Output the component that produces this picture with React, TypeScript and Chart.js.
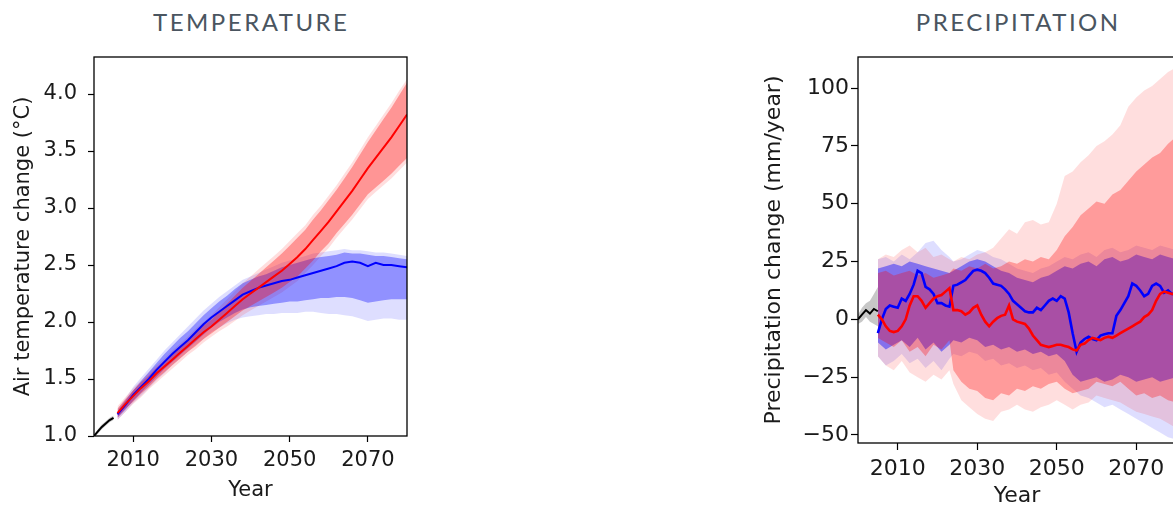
import React, { useEffect, useRef } from "react";
import { Chart, registerables } from "chart.js";

Chart.register(...registerables);

// ---------- shared ----------
const X_TICKS = [2010, 2030, 2050, 2070];
const HIST_YEARS = [2000, 2001, 2002, 2003, 2004, 2005];

// ---------- temperature ----------
const T_Y_TICKS = [1.0, 1.5, 2.0, 2.5, 3.0, 3.5, 4.0];
const T_HIST = [1.0, 1.04, 1.08, 1.11, 1.14, 1.16];
const T_HIST_HI = [1.01, 1.06, 1.1, 1.13, 1.16, 1.18];
const T_HIST_LO = [0.99, 1.02, 1.06, 1.09, 1.12, 1.14];

const T_YEARS = [
  2006, 2008, 2010, 2012, 2014, 2016, 2018, 2020, 2022, 2024,
  2026, 2028, 2030, 2032, 2034, 2036, 2038, 2040, 2042, 2044,
  2046, 2048, 2050, 2052, 2054, 2056, 2058, 2060, 2062, 2064,
  2066, 2068, 2070, 2072, 2074, 2076, 2078, 2080,
];
const T_RED = [
  1.2, 1.28, 1.35, 1.42, 1.48, 1.55, 1.61, 1.67, 1.73, 1.79,
  1.85, 1.91, 1.96, 2.02, 2.08, 2.14, 2.2, 2.25, 2.3, 2.35,
  2.4, 2.45, 2.51, 2.57, 2.64, 2.72, 2.8, 2.88, 2.97, 3.06,
  3.15, 3.25, 3.35, 3.44, 3.53, 3.62, 3.72, 3.82,
];
const T_RED_HI = [
  1.24, 1.32, 1.4, 1.47, 1.53, 1.6, 1.66, 1.72, 1.78, 1.84,
  1.91, 1.97, 2.02, 2.09, 2.16, 2.23, 2.3, 2.36, 2.42, 2.48,
  2.54, 2.6, 2.67, 2.74, 2.81, 2.9, 2.98, 3.07, 3.16, 3.26,
  3.36, 3.47, 3.58, 3.68, 3.78, 3.88, 3.99, 4.1,
];
const T_RED_LO = [
  1.16, 1.24, 1.3, 1.37, 1.43, 1.5, 1.56, 1.62, 1.68, 1.74,
  1.79, 1.85, 1.9, 1.95, 2.0, 2.05, 2.1, 2.14, 2.18, 2.22,
  2.26, 2.3, 2.35, 2.4, 2.47, 2.54, 2.62, 2.69, 2.78, 2.86,
  2.94, 3.03, 3.12, 3.18, 3.24, 3.3, 3.37, 3.44,
];
const T_RED_HI2 = [
  1.26, 1.34, 1.42, 1.49, 1.56, 1.62, 1.68, 1.75, 1.81, 1.87,
  1.94, 2.0, 2.06, 2.13, 2.2, 2.27, 2.34, 2.4, 2.46, 2.52,
  2.58, 2.64, 2.71, 2.78, 2.85, 2.94, 3.02, 3.11, 3.2, 3.3,
  3.4, 3.51, 3.62, 3.72, 3.82, 3.92, 4.03, 4.13,
];
const T_RED_LO2 = [
  1.14, 1.21, 1.28, 1.34, 1.41, 1.47, 1.53, 1.59, 1.65, 1.71,
  1.76, 1.82, 1.87, 1.92, 1.96, 2.01, 2.06, 2.1, 2.14, 2.18,
  2.22, 2.26, 2.31, 2.36, 2.43, 2.5, 2.58, 2.65, 2.74, 2.82,
  2.9, 2.99, 3.08, 3.14, 3.2, 3.26, 3.33, 3.4,
];
const T_BLUE = [
  1.19, 1.27, 1.36, 1.43, 1.5, 1.58, 1.65, 1.72, 1.78, 1.84,
  1.91, 1.98, 2.04, 2.09, 2.14, 2.19, 2.24, 2.27, 2.3, 2.32,
  2.34, 2.36, 2.37, 2.39, 2.41, 2.43, 2.45, 2.47, 2.49, 2.52,
  2.53, 2.52, 2.49, 2.52, 2.5, 2.5, 2.49, 2.48,
];
const T_BLUE_HI = [
  1.22, 1.31, 1.4, 1.48, 1.56, 1.64, 1.72, 1.79, 1.86, 1.92,
  1.99, 2.06, 2.12, 2.18, 2.23, 2.29, 2.34, 2.37, 2.4, 2.42,
  2.45, 2.48, 2.5, 2.52, 2.54, 2.56, 2.57, 2.58, 2.59, 2.61,
  2.6, 2.6, 2.59, 2.58, 2.58, 2.57, 2.56, 2.55,
];
const T_BLUE_LO = [
  1.16, 1.23, 1.31, 1.38, 1.45, 1.52, 1.59, 1.65, 1.71, 1.77,
  1.83, 1.89, 1.95, 2.0, 2.04, 2.08, 2.11, 2.13, 2.14, 2.15,
  2.16, 2.17, 2.18, 2.18, 2.19, 2.2, 2.21, 2.21, 2.22, 2.22,
  2.21, 2.19, 2.17, 2.18, 2.19, 2.2, 2.2, 2.2,
];
const T_BLUE_HI2 = [
  1.24, 1.33, 1.43, 1.51, 1.59, 1.67, 1.75, 1.82, 1.89, 1.96,
  2.03, 2.1, 2.16, 2.22, 2.27, 2.32, 2.37, 2.4, 2.43, 2.46,
  2.49, 2.52, 2.54, 2.56, 2.58, 2.6, 2.61, 2.62, 2.63, 2.64,
  2.63, 2.63, 2.62, 2.61, 2.61, 2.6, 2.59, 2.58,
];
const T_BLUE_LO2 = [
  1.14, 1.21, 1.29, 1.35, 1.42, 1.49, 1.55, 1.62, 1.68, 1.74,
  1.8, 1.85, 1.91, 1.95, 1.99, 2.02, 2.04, 2.05, 2.06, 2.07,
  2.07, 2.08, 2.08, 2.08, 2.09, 2.09, 2.08, 2.07, 2.07, 2.06,
  2.05, 2.03, 2.01, 2.02, 2.03, 2.03, 2.02, 2.02,
];

// ---------- precipitation ----------
const P_Y_TICKS = [-50, -25, 0, 25, 50, 75, 100];
const P_HIST = [0, 2, 4, 2.5, 4.5, 3.5];
const P_HIST_HI = [2, 5, 7, 8, 11, 14];
const P_HIST_LO = [-2, -1, 1, -1, -2, -3];

const P_YEARS = [
  2005, 2006, 2007, 2008, 2009, 2010, 2011, 2012, 2013, 2014,
  2015, 2016, 2017, 2018, 2019, 2020, 2021, 2022, 2023, 2024,
  2025, 2026, 2027, 2028, 2029, 2030, 2031, 2032, 2033, 2034,
  2035, 2036, 2037, 2038, 2039, 2040, 2041, 2042, 2043, 2044,
  2045, 2046, 2047, 2048, 2049, 2050, 2051, 2052, 2053, 2054,
  2055, 2056, 2057, 2058, 2059, 2060, 2061, 2062, 2063, 2064,
  2065, 2066, 2067, 2068, 2069, 2070, 2071, 2072, 2073, 2074,
  2075, 2076, 2077, 2078, 2079, 2080,
];
const P_BLUE = [
  -6, 0, 4.5, 6, 5.5, 5, 9, 8, 11, 15,
  21, 20, 14, 13, 11, 7, 7, 6, 5.5, 14.5,
  15, 16, 17, 19, 21, 21.5, 21, 20, 18, 15.5,
  15, 14.5, 13, 11, 8, 6.5, 5, 3.5, 3, 3,
  5, 4, 6, 8, 9, 8, 10, 9, 3, -6,
  -14, -10, -8.5, -7.5, -8.5, -9, -7, -6.5, -6, -6,
  1.5, 4, 7, 10, 15.5, 14.5, 12.5, 10, 11, 14.5,
  15.5, 14.5, 11.5, 12.5, 11, 11,
];
const P_RED = [
  2, 0, -3, -5, -5.5, -5, -3, 0, 6, 10,
  10, 8, 5, 7, 9, 10, 10.5, 12, 13.5, 4,
  4, 3.5, 2, 3, 5, 6, 2, -1, -3, -1,
  0.5, 1.5, 2, 6, 0, -1, -1.5, -2, -4, -7,
  -9, -11, -11.5, -12, -11.5, -11, -11, -11.5, -12, -13,
  -13.5, -11, -10.5, -9, -8, -8.5, -9, -8, -7.5, -8,
  -7, -6, -5, -4, -3, -2, -1, 1, 2, 4,
  8, 11, 12, 11.5, 11, 11,
];

const PB_YEARS = [
  2005, 2007, 2009, 2011, 2013, 2015, 2017, 2019, 2021, 2023,
  2024, 2026, 2028, 2030, 2032, 2034, 2036, 2038, 2040, 2042,
  2044, 2046, 2048, 2050, 2052, 2054, 2056, 2058, 2060, 2062,
  2064, 2066, 2068, 2070, 2072, 2074, 2076, 2078, 2080,
];
const PR_IN_HI = [
  20, 21, 19, 20, 21, 19, 20, 18, 19, 20,
  22, 21, 23, 22, 24, 22, 23, 25, 24, 26,
  25, 27, 26, 30, 36, 40, 45, 48, 51, 50,
  54, 56, 60, 64, 67, 70, 72, 76, 79,
];
const PR_IN_LO = [
  -8, -10, -12, -9, -14, -12, -16, -11, -13, -9,
  -22, -27, -30, -31, -34, -35, -32, -33, -30, -31,
  -29, -30, -28, -27, -30, -32, -31, -30, -27, -28,
  -29, -27, -30, -33, -32, -34, -33, -35, -36,
];
const PR_OUT_HI = [
  26, 28, 27, 30, 32, 29, 31, 27, 28, 26,
  25, 27, 26, 28, 29, 31, 35, 39, 37, 42,
  43, 41, 42, 50, 62, 64, 68, 71, 75, 77,
  80, 84, 92, 96, 99, 101, 104, 107, 109,
];
const PR_OUT_LO = [
  -16, -20, -22, -18, -23, -25, -27, -24, -26, -22,
  -28, -35, -38, -41, -43, -44, -40, -39, -37, -39,
  -40, -38, -37, -35, -37, -39, -37, -36, -33, -34,
  -35, -36, -38, -40, -41, -42, -43, -45, -47,
];
const PB_IN_HI = [
  22, 23, 24, 23, 25, 24, 23, 22, 21, 20,
  21, 23, 25, 26, 25, 23, 21, 20, 18, 17,
  16, 18, 19, 21, 23, 22, 24, 25, 23, 26,
  27, 25, 26, 28, 27, 26, 28, 27, 26,
];
const PB_IN_LO = [
  -10, -13, -11, -9, -12, -8, -13, -10, -14, -11,
  -9, -10, -8, -9, -12, -11, -13, -12, -14, -13,
  -15, -14, -16, -15, -18, -24, -27, -26, -25, -27,
  -26, -24, -25, -27, -26, -25, -27, -26, -25,
];
const PB_OUT_HI = [
  26, 27, 25, 28, 26, 29, 33, 34, 30, 27,
  25, 26, 28, 30, 29, 27, 26, 24, 22, 21,
  20, 22, 23, 25, 27, 26, 28, 29, 27, 30,
  31, 29, 30, 32, 31, 30, 32, 31, 30,
];
const PB_OUT_LO = [
  -16, -20, -18, -15, -19, -17, -21, -18, -22, -17,
  -15, -16, -14, -15, -18, -17, -20, -19, -21, -20,
  -22, -21, -24, -23, -27, -30, -33, -34, -36, -38,
  -37, -39, -41, -43, -45, -47, -49, -51, -52,
];

// ---------- styles ----------
const FONT = "'DejaVu Sans', sans-serif";
const TEXT = "#1a1a1a";
const RED = "#ff0000";
const BLUE = "#0000ff";
const T_RED_IN = "rgba(255,0,0,0.33)";
const T_BLUE_IN = "rgba(0,0,255,0.35)";
const P_RED_IN = "rgba(255,0,0,0.3)";
const P_BLUE_IN = "rgba(0,0,255,0.42)";
const RED_OUT = "rgba(255,0,0,0.13)";
const BLUE_OUT = "rgba(0,0,255,0.13)";
const HIST_BAND = "rgba(0,0,0,0.22)";

const pts = (xs: number[], ys: number[]) => xs.map((x, i) => ({ x, y: ys[i] }));

function band(xs: number[], hi: number[], lo: number[], color: string, order: number) {
  return [
    { data: pts(xs, hi), borderWidth: 0, borderColor: "transparent", pointRadius: 0, fill: false, order },
    { data: pts(xs, lo), borderWidth: 0, borderColor: "transparent", pointRadius: 0, fill: "-1", backgroundColor: color, order },
  ];
}
function line(xs: number[], ys: number[], color: string, width: number, order: number) {
  return { data: pts(xs, ys), borderColor: color, borderWidth: width, pointRadius: 0, fill: false, order, tension: 0 };
}

const framePlugin = {
  id: "frame",
  afterDatasetsDraw(chart: any) {
    const { ctx, chartArea } = chart;
    const { left, top, right, bottom } = chartArea;
    ctx.save();
    ctx.strokeStyle = "#000";
    ctx.lineWidth = 1.3;
    ctx.strokeRect(left, top, right - left, bottom - top);
    ctx.restore();
  },
};

type P = {
  padRight: number; yWidth: number; xHeight: number; font: number; tick: number;
  yPad: number; xPad: number; yTitlePad: number; xTitlePad: number;
  yMin: number; yMax: number; yTicks: number[]; yTitle: string; fmt: (v: number) => string;
};

function makeOptions(p: P) {
  const grid = { display: true, drawOnChartArea: false, drawTicks: true, tickLength: p.tick, tickColor: "#000", tickWidth: 1.2 };
  return {
    responsive: false,
    maintainAspectRatio: false,
    animation: false,
    events: [],
    layout: { padding: { left: 0, top: 57, right: p.padRight, bottom: 0 } },
    plugins: { legend: { display: false }, tooltip: { enabled: false }, title: { display: false } },
    scales: {
      x: {
        type: "linear",
        min: 2000,
        max: 2080,
        afterFit: (s: any) => { s.height = p.xHeight; },
        afterBuildTicks: (s: any) => { s.ticks = X_TICKS.map((v) => ({ value: v })); },
        ticks: { autoSkip: false, maxRotation: 0, padding: p.xPad, color: TEXT, font: { family: FONT, size: p.font }, callback: (v: any) => String(v) },
        grid,
        border: { display: false },
        title: { display: true, text: "Year", color: TEXT, font: { family: FONT, size: p.font, lineHeight: 1 }, padding: { top: 0, bottom: p.xTitlePad } },
      },
      y: {
        type: "linear",
        min: p.yMin,
        max: p.yMax,
        afterFit: (s: any) => { s.width = p.yWidth; },
        afterBuildTicks: (s: any) => { s.ticks = p.yTicks.map((v) => ({ value: v })); },
        ticks: { autoSkip: false, padding: p.yPad, color: TEXT, font: { family: FONT, size: p.font }, callback: (v: any) => p.fmt(Number(v)) },
        grid,
        border: { display: false },
        title: { display: true, text: p.yTitle, color: TEXT, font: { family: FONT, size: p.font, lineHeight: 1 }, padding: { top: p.yTitlePad, bottom: 0 } },
      },
    },
  };
}

const titleStyle = (cx: number): React.CSSProperties => ({
  position: "absolute",
  left: cx - 200,
  width: 400,
  top: 10,
  paddingLeft: 2.5,
  boxSizing: "border-box",
  textAlign: "center",
  fontFamily: "Lato, 'Open Sans', sans-serif",
  fontWeight: 400,
  fontSize: 24,
  lineHeight: "24px",
  letterSpacing: "2.5px",
  color: "#4a5560",
  whiteSpace: "nowrap",
});

export default function App() {
  const tRef = useRef<HTMLCanvasElement>(null);
  const pRef = useRef<HTMLCanvasElement>(null);

  useEffect(() => {
    const tChart = new Chart(tRef.current as HTMLCanvasElement, {
      type: "line",
      data: {
        datasets: [
          line(T_YEARS, T_RED, RED, 2, 0),
          line(T_YEARS, T_BLUE, BLUE, 2, 1),
          line(HIST_YEARS, T_HIST, "#000", 2, 2),
          ...band(T_YEARS, T_RED_HI, T_RED_LO, T_RED_IN, 3),
          ...band(T_YEARS, T_BLUE_HI, T_BLUE_LO, T_BLUE_IN, 4),
          ...band(T_YEARS, T_RED_HI2, T_RED_LO2, RED_OUT, 5),
          ...band(T_YEARS, T_BLUE_HI2, T_BLUE_LO2, BLUE_OUT, 6),
          ...band(HIST_YEARS, T_HIST_HI, T_HIST_LO, HIST_BAND, 7),
        ] as any,
      },
      options: makeOptions({
        padRight: 13, yWidth: 94, xHeight: 71, font: 21, tick: 6, yPad: 11, xPad: 6,
        yTitlePad: 13.5, xTitlePad: 6, yMin: 1.0, yMax: 4.325, yTicks: T_Y_TICKS,
        yTitle: "Air temperature change (°C)", fmt: (v) => v.toFixed(1),
      }) as any,
      plugins: [framePlugin],
    });

    const pChart = new Chart(pRef.current as HTMLCanvasElement, {
      type: "line",
      data: {
        datasets: [
          line(P_YEARS, P_RED, RED, 2.6, 0),
          line(P_YEARS, P_BLUE, BLUE, 2.6, 1),
          line(HIST_YEARS, P_HIST, "#000", 2, 2),
          ...band(PB_YEARS, PR_IN_HI, PR_IN_LO, P_RED_IN, 3),
          ...band(PB_YEARS, PB_IN_HI, PB_IN_LO, P_BLUE_IN, 4),
          ...band(PB_YEARS, PR_OUT_HI, PR_OUT_LO, RED_OUT, 5),
          ...band(PB_YEARS, PB_OUT_HI, PB_OUT_LO, BLUE_OUT, 6),
          ...band(HIST_YEARS, P_HIST_HI, P_HIST_LO, HIST_BAND, 7),
        ] as any,
      },
      options: makeOptions({
        padRight: 14, yWidth: 108, xHeight: 64, font: 22, tick: 7, yPad: 2, xPad: 6,
        yTitlePad: 13, xTitlePad: 0, yMin: -53.5, yMax: 113.5, yTicks: P_Y_TICKS,
        yTitle: "Precipitation change (mm/year)",
        fmt: (v) => (v < 0 ? "\u2212" + Math.abs(v) : String(v)),
      }) as any,
      plugins: [framePlugin],
    });

    return () => {
      tChart.destroy();
      pChart.destroy();
    };
  }, []);

  return (
    <div style={{ position: "absolute", left: 0, top: 0, width: 1173, height: 507, overflow: "hidden", background: "#fff" }}>
      <div style={titleStyle(250)}>TEMPERATURE</div>
      <div style={titleStyle(1017)}>PRECIPITATION</div>
      <canvas ref={tRef} width={420} height={507} style={{ position: "absolute", left: 0, top: 0, width: 420, height: 507 }} />
      <canvas ref={pRef} width={440} height={507} style={{ position: "absolute", left: 750, top: 0, width: 440, height: 507 }} />
    </div>
  );
}
